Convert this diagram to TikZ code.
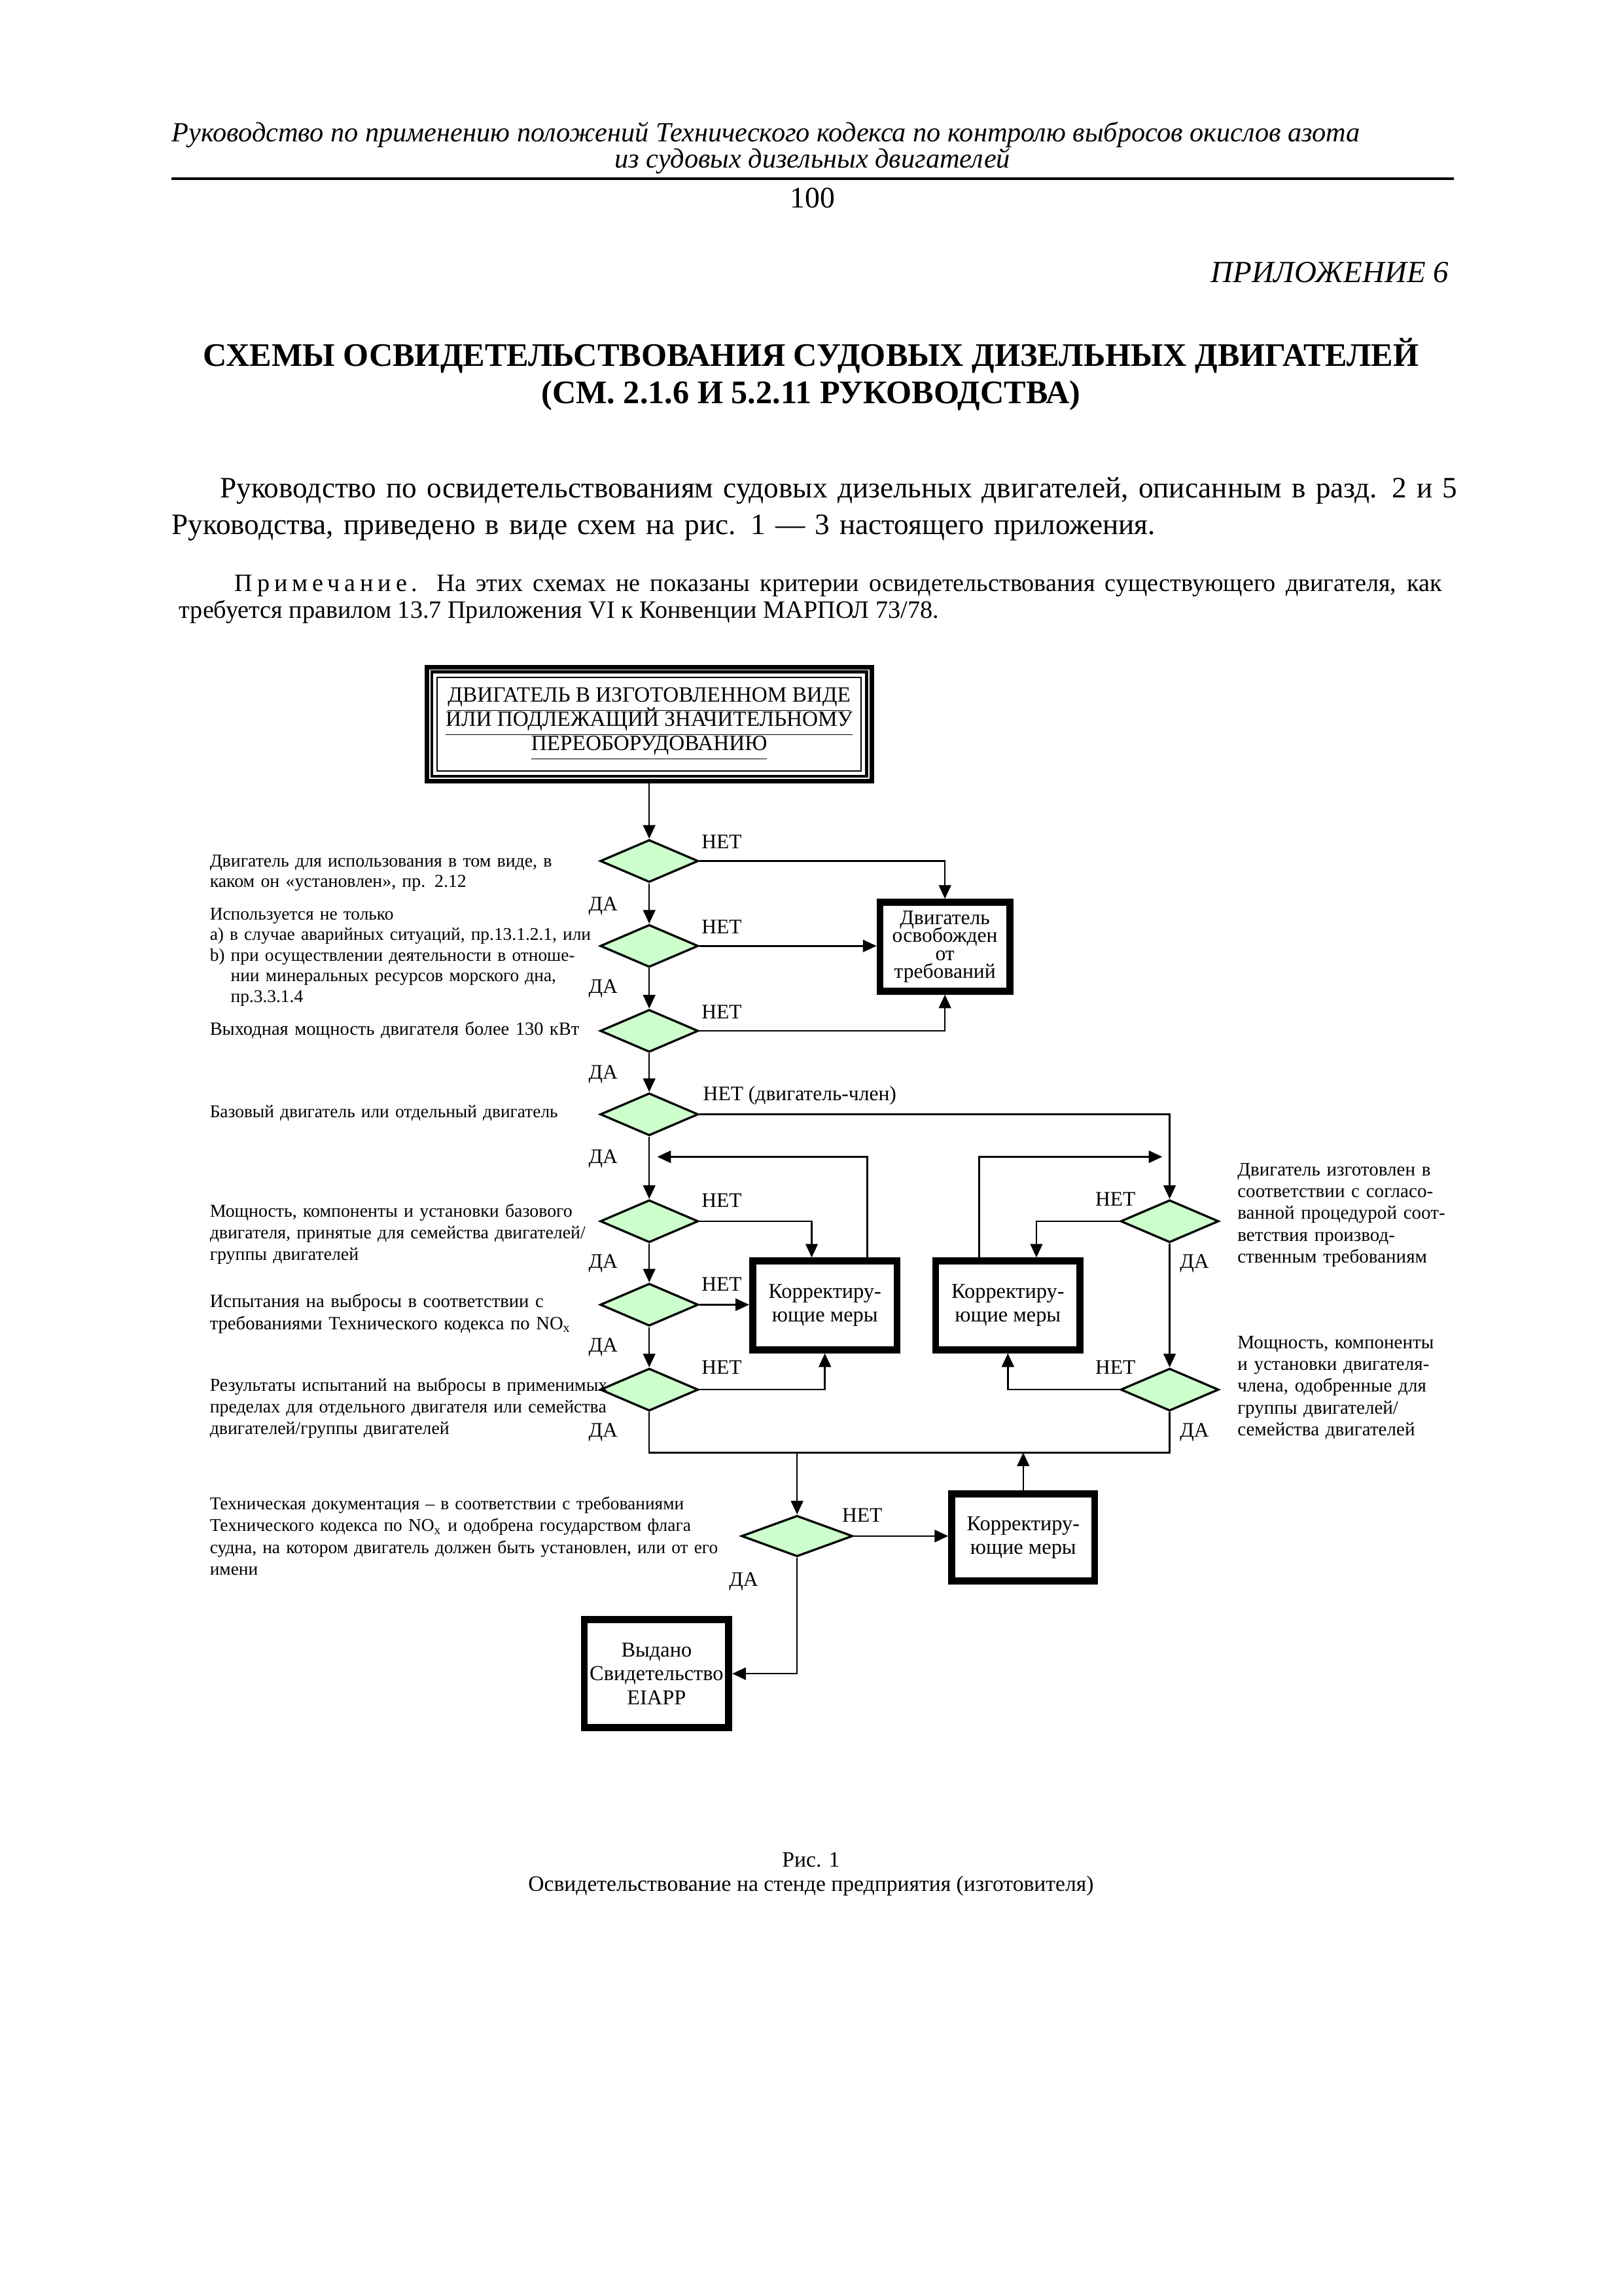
\documentclass[tikz,border=0pt]{standalone}
\usepackage{fontspec}
\setmainfont{Liberation Serif}
\usetikzlibrary{arrows.meta, shapes.geometric, positioning, calc}
\definecolor{decisiongreen}{RGB}{204,255,204}
\newcommand{\tightlines}{\lineskiplimit=-5pt\relax}

\begin{document}
\begin{tikzpicture}[x=0.018936cm, y=-0.018936cm,
    decision/.style={diamond, draw, line width=0.8pt, fill=decisiongreen,
        minimum width=1.269cm, minimum height=0.549cm, inner sep=0pt},
    action/.style={draw, line width=2.4pt, fill=white, align=center, inner sep=0pt,
        minimum width=1.875cm, minimum height=1.155cm, font=\fontsize{7.8}{8.8}\selectfont},
    arr/.style={line width=0.6pt, -{Triangle[length=5pt, width=4.5pt]}},
    flow/.style={line width=0.6pt},
    yn/.style={font=\fontsize{7.6}{8}\selectfont, inner sep=0pt},
    crit/.style={anchor=base west, inner sep=0pt, align=left, text width=6cm,
        font=\fontsize{6.7}{8}\selectfont}]

    \fill[white] (0,0) rectangle (1109,1568);
    \useasboundingbox (0,0) rectangle (1109,1568);

    % Page head
    \node[anchor=west, inner sep=0pt, font=\itshape\fontsize{10.2}{12}\selectfont] (head1) at (117,92)
        {Руководство по применению положений Технического кодекса по контролю выбросов окислов азота};
    \node[inner sep=0pt, font=\itshape\fontsize{10.2}{12}\selectfont] (head2) at (555,110)
        {из судовых дизельных двигателей};
    \draw[line width=1pt] (117,122) -- (993,122);
    \node[inner sep=0pt, font=\fontsize{11}{13}\selectfont] (pageno) at (555,135) {100};
    \node[anchor=east, inner sep=0pt, font=\itshape\fontsize{11.3}{13}\selectfont] (annex) at (990,186)
        {ПРИЛОЖЕНИЕ 6};

    % Title
    \node[inner sep=0pt, font=\bfseries\fontsize{12.1}{14}\selectfont] (title1) at (554,243)
        {СХЕМЫ ОСВИДЕТЕЛЬСТВОВАНИЯ СУДОВЫХ ДИЗЕЛЬНЫХ ДВИГАТЕЛЕЙ};
    \node[inner sep=0pt, font=\bfseries\fontsize{12.1}{14}\selectfont] (title2) at (554,270)
        {(СМ. 2.1.6 И 5.2.11 РУКОВОДСТВА)};

    % Intro and remark
    \node[anchor=base west, inner sep=0pt, align=left, text width=17cm,
        font=\fontsize{10.9}{13.4}\selectfont] (intro) at (117,340)
        {\hspace*{0.625cm}\makebox[15.906cm][s]{Руководство по освидетельствованиям судовых дизельных двигателей, описанным в разд. 2 и 5}\\
         Руководства, приведено в виде схем на рис. 1 — 3 настоящего приложения.};
    \node[anchor=base west, inner sep=0pt, align=justify, text width=16.34cm,
        font=\fontsize{9.2}{9.7}\selectfont] (remark) at (122,404)
        {\hspace*{0.72cm}{\addfontfeatures{LetterSpace=18}Примечание.} На этих схемах не показаны критерии освидетельствования существующего двигателя, как\linebreak
         требуется правилом 13.7 Приложения VI к Конвенции МАРПОЛ 73/78.};

    % Boxes
    \node[draw, line width=1.7pt, fill=white, align=center, inner sep=0pt,
        minimum width=5.757cm, minimum height=1.477cm,
        font=\fontsize{8}{8.9}\selectfont\tightlines] (start) at (443.5,494.5)
        {\underline{ДВИГАТЕЛЬ В ИЗГОТОВЛЕННОМ ВИДЕ}\\\underline{ИЛИ ПОДЛЕЖАЩИЙ ЗНАЧИТЕЛЬНОМУ}\\\underline{ПЕРЕОБОРУДОВАНИЮ}};
    \node[action, minimum width=1.685cm, font=\fontsize{7.6}{6.6}\selectfont\tightlines]
        (exempt) at (645.5,646.5) {Двигатель\\освобожден\\от\\требований};
    \node[action] (corrA) at (563.5,891.5) {Корректиру-\\ющие меры};
    \node[action] (corrB) at (688.5,891.5) {Корректиру-\\ющие меры};
    \node[action, minimum width=1.856cm, minimum height=1.136cm] (corrC) at (699,1050) {Корректиру-\\ющие меры};
    \node[action, minimum height=1.401cm] (cert) at (448.5,1143) {Выдано\\Свидетельство\\EIAPP};

    % Decisions
    \node[decision] (d1) at (443.5,588) {};
    \node[decision] (d2) at (443.5,646) {};
    \node[decision] (d3) at (443.5,704) {};
    \node[decision] (d4) at (443.5,761) {};
    \node[decision] (d5) at (443.5,834) {};
    \node[decision] (d6) at (443.5,891) {};
    \node[decision] (d7) at (443.5,949) {};
    \node[decision] (d8) at (799,834) {};
    \node[decision] (d9) at (799,949) {};
    \node[decision, minimum width=1.439cm, minimum height=0.530cm] (d10) at (544.5,1049) {};

    % Border lines inside boxes
    \draw[line width=1.1pt] ([shift={(2.7pt,-2.7pt)}]start.north west) rectangle ([shift={(-2.7pt,2.7pt)}]start.south east);
    \draw[line width=0.5pt] ([shift={(4.7pt,-4.7pt)}]start.north west) rectangle ([shift={(-4.7pt,4.7pt)}]start.south east);
    \foreach \b in {exempt, corrA, corrB, corrC, cert}
        \draw[line width=0.6pt] ([shift={(2.3pt,-2.3pt)}]\b.north west) rectangle ([shift={(-2.3pt,2.3pt)}]\b.south east);

    % Main line
    \draw[arr] (start) -- (d1);
    \foreach \a/\b in {d1/d2, d2/d3, d3/d4, d4/d5, d5/d6, d6/d7, d8/d9}
        \draw[arr] (\a) -- (\b);

    % To exempt
    \draw[arr] (d1.east) -| (exempt.north);
    \draw[arr] (d2.east) -- (d2.east -| exempt.west);
    \draw[arr] (d3.east) -| (exempt.south);

    % Member engine
    \draw[arr] (d4.east) -| (d8.north);

    % Corrective loops
    \coordinate (retA) at (449,790);
    \coordinate (retB) at (794,790);
    \draw[arr] (d5.east) -| ($(corrA.north)+(-9,0)$);
    \draw[arr] (d6.east) -- (d6.east -| corrA.west);
    \draw[arr] (d7.east) -| (corrA.south);
    \draw[arr] ($(corrA.north)+(29,0)$) |- (retA);
    \draw[arr] (d8.west) -| ($(corrB.north)+(19.5,0)$);
    \draw[arr] (d9.west) -| (corrB.south);
    \draw[arr] ($(corrB.north)+(-19.5,0)$) |- (retB);

    % Joining line
    \coordinate (bus) at (0,992);
    \draw[flow] (d7.south) |- (d9.south |- bus) -- (d9.south);
    \draw[arr] (d10.north |- bus) -- (d10.north);
    \draw[arr] (corrC.north) -- (corrC.north |- bus);
    \draw[arr] (d10.east) -- (d10.east -| corrC.west);
    \draw[arr] (d10.south) |- (cert.east);

    % НЕТ / ДА
    \node[yn] (no1) at (493,575) {НЕТ};
    \node[yn] (no2) at (493,633) {НЕТ};
    \node[yn] (no3) at (493,691) {НЕТ};
    \node[yn, anchor=west] (no4) at (480,748) {НЕТ (двигатель-член)};
    \node[yn] (no5) at (493,820) {НЕТ};
    \node[yn] (no6) at (493,877) {НЕТ};
    \node[yn] (no7) at (493,934) {НЕТ};
    \node[yn] (no8) at (762,819) {НЕТ};
    \node[yn] (no9) at (762,934) {НЕТ};
    \node[yn] (no10) at (589,1035) {НЕТ};
    \foreach \y [count=\i] in {619, 675, 733.5, 791.5, 863, 920, 978}
        \node[yn] (yes\i) at (412,\y) {ДА};
    \node[yn] (yes8) at (816,863) {ДА};
    \node[yn] (yes9) at (816,978) {ДА};
    \node[yn] (yes10) at (508,1080) {ДА};

    % Criteria, left
    \node[crit, font=\fontsize{6.7}{7.5}\selectfont] (c1) at (143,592) {Двигатель для использования в том виде, в\\каком он «установлен», пр. 2.12};
    \node[crit, font=\fontsize{6.6}{7.6}\selectfont] (c2) at (143,628) {Используется не только\\а) в случае аварийных ситуаций, пр.13.1.2.1, или\\b) при осуществлении деятельности в отноше-\\\hspace*{0.27cm}нии минеральных ресурсов морского дна,\\\hspace*{0.27cm}пр.3.3.1.4};
    \node[crit, font=\fontsize{6.85}{8}\selectfont] (c3) at (143,707) {Выходная мощность двигателя более 130 кВт};
    \node[crit, font=\fontsize{6.6}{8}\selectfont] (c4) at (143,763) {Базовый двигатель или отдельный двигатель};
    \node[crit] (c5) at (143,831) {\makebox[4.753cm][s]{Мощность, компоненты и установки базового}\\\makebox[4.753cm][s]{двигателя, принятые для семейства двигателей/}\\группы двигателей};
    \node[crit, font=\fontsize{6.9}{8}\selectfont] (c6) at (143,893) {Испытания на выбросы в соответствии с\\требованиями Технического кодекса по NO\textsubscript{x}};
    \node[crit] (c7) at (143,950) {\makebox[5.056cm][s]{Результаты испытаний на выбросы в применимых}\\\makebox[5.056cm][s]{пределах для отдельного двигателя или семейства}\\двигателей/группы двигателей};
    \node[crit, font=\fontsize{6.6}{8}\selectfont] (c8) at (143,1031) {\makebox[6.684cm][s]{Техническая документация – в соответствии с требованиями}\\\makebox[6.684cm][s]{Технического кодекса по NO\textsubscript{x} и одобрена государством флага}\\\makebox[6.684cm][s]{судна, на котором двигатель должен быть установлен, или от его}\\имени};

    % Criteria, right
    \node[crit, text width=3.5cm, font=\fontsize{7}{8}\selectfont] (c9) at (845,803) {Двигатель изготовлен в\\соответствии с согласо-\\ванной процедурой соот-\\ветствия производ-\\ственным требованиям};
    \node[crit, text width=3.5cm, font=\fontsize{7}{8}\selectfont] (c10) at (845,921) {Мощность, компоненты\\и установки двигателя-\\члена, одобренные для\\группы двигателей/\\семейства двигателей};

    % Caption
    \node[inner sep=0pt, font=\fontsize{8.1}{10}\selectfont] (figno) at (554,1270) {Рис. 1};
    \node[inner sep=0pt, font=\fontsize{8.1}{10}\selectfont] (figcap) at (554,1288)
        {Освидетельствование на стенде предприятия (изготовителя)};
\end{tikzpicture}
\end{document}
